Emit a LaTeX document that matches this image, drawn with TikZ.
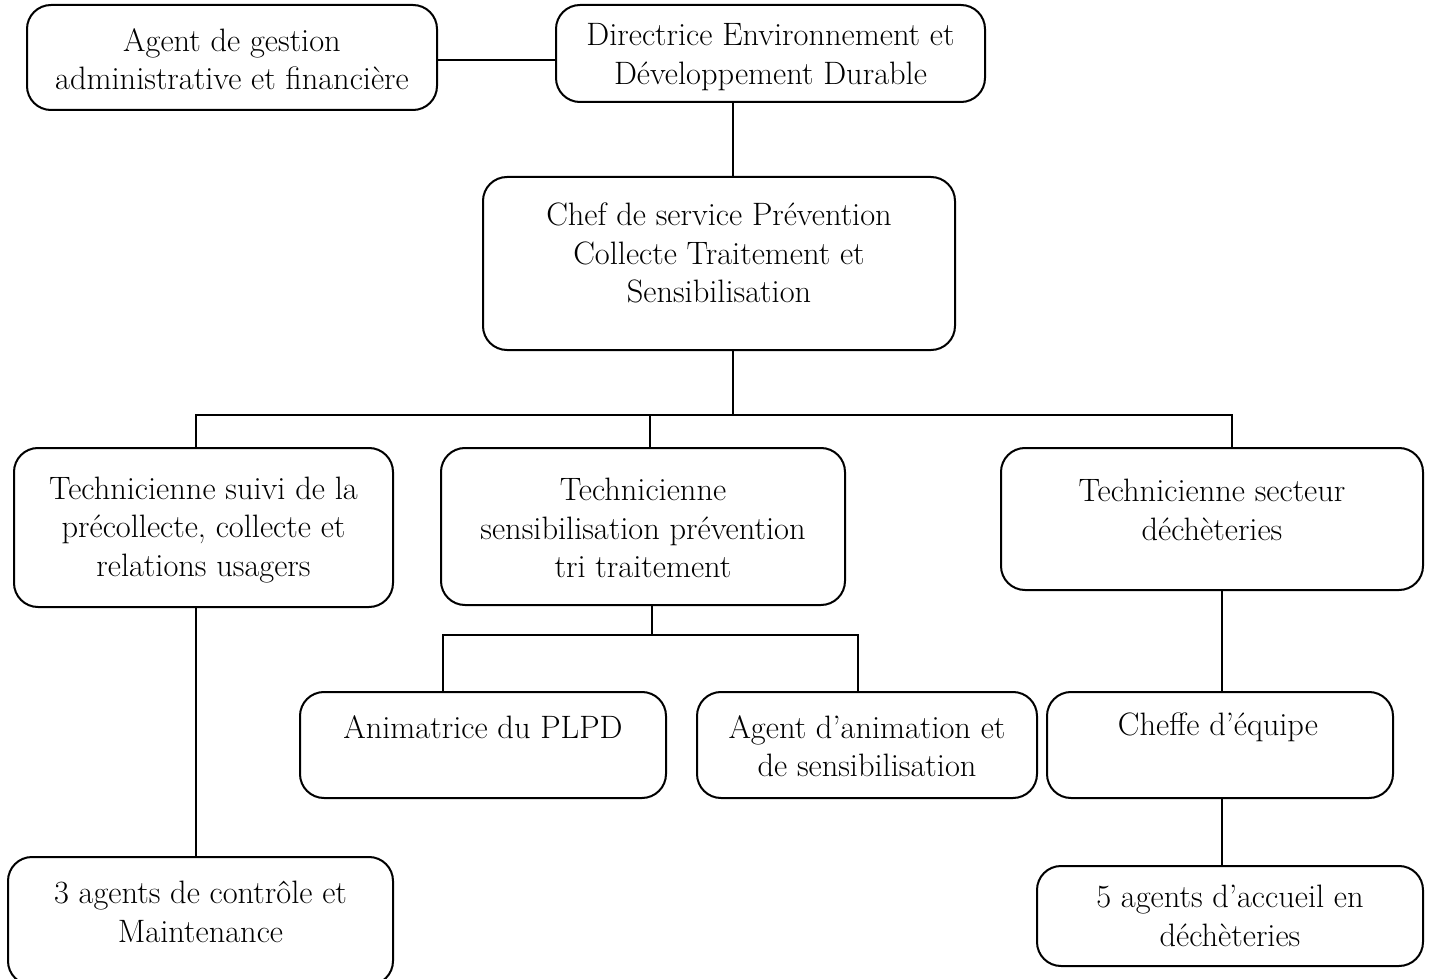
\documentclass[tikz,border=0pt]{standalone}
\usetikzlibrary{calc}
\begin{document}
\begin{tikzpicture}[x=0.5pt,y=-0.5pt,
  box/.style={draw, line width=1pt, rounded corners=12pt, inner sep=0pt},
  txt/.style={align=center, inner sep=0pt, font=\fontsize{16.2}{19.2}\selectfont},
  link/.style={line width=0.8pt}]
\useasboundingbox (0,0) rectangle (1432,979);
% boxes
\node[box, minimum width=205pt, minimum height=52.5pt] (agf) at (232,57.5) {};
\node[txt] (agft) at (232,59) {Agent de gestion\\administrative et financière};
\node[box, minimum width=214.5pt, minimum height=48.5pt] (dir) at (770.5,53.5) {};
\node[txt] (dirt) at (770.5,57) {Directrice Environnement et\\Développement Durable};
\node[box, minimum width=236pt, minimum height=86.5pt] (chef) at (719,263.5) {};
\node[txt] (cheft) at (719,253) {Chef de service Prévention\\Collecte Traitement et\\Sensibilisation};
\node[box, minimum width=189.5pt, minimum height=79.5pt] (t1) at (203.5,527.5) {};
\node[txt] (t1t) at (203.5,530) {Technicienne suivi de la\\précollecte, collecte et\\relations usagers};
\node[box, minimum width=202pt, minimum height=78.5pt] (t2) at (643,526.5) {};
\node[txt] (t2t) at (643,528) {Technicienne\\sensibilisation prévention\\tri traitement};
\node[box, minimum width=211pt, minimum height=71pt] (t3) at (1212,519) {};
\node[txt] (t3t) at (1212,510) {Technicienne secteur\\déchèteries};
\node[box, minimum width=192.5pt, minimum height=64pt] (ag3) at (200.5,921) {};
\node[txt] (ag3t) at (200.5,912) {3 agents de contrôle et\\Maintenance};
\node[box, minimum width=183pt, minimum height=53pt] (anim) at (483,745) {};
\node[txt] (animt) at (483,727) {Animatrice du PLPD};
\node[box, minimum width=170pt, minimum height=53pt] (agan) at (867,745) {};
\node[txt] (agant) at (867,746) {Agent d’animation et\\de sensibilisation};
\node[box, minimum width=173pt, minimum height=53pt] (cheffe) at (1220,745) {};
\node[txt] (cheffet) at (1218,727) {Cheffe d’équipe};
\node[box, minimum width=193pt, minimum height=50pt] (ag5) at (1230,916) {};
\node[txt] (ag5t) at (1230,916) {5 agents d’accueil en\\déchèteries};
% helper coordinates
\coordinate (h1) at (0,60);
\coordinate (v1) at (733,0);
\coordinate (j1) at (733,415);
\coordinate (c1) at (196,0);
\coordinate (c2) at (650,0);
\coordinate (c3) at (1232,0);
\coordinate (j2) at (652,635);
\coordinate (c4) at (443,0);
\coordinate (c5) at (858,0);
\coordinate (c6) at (1222,0);
% connectors
\draw[link] (agf.east |- h1) -- (dir.west |- h1);
\draw[link] (dir.south -| v1) -- (chef.north -| v1);
\draw[link] (chef.south -| v1) -- (j1);
\draw[link] (t1.north -| c1) -- (c1 |- j1) -- (c3 |- j1) -- (t3.north -| c3);
\draw[link] (t2.north -| c2) -- (c2 |- j1);
\draw[link] (t1.south -| c1) -- (ag3.north -| c1);
\draw[link] (t2.south -| j2) -- (j2);
\draw[link] (anim.north -| c4) -- (c4 |- j2) -- (c5 |- j2) -- (agan.north -| c5);
\draw[link] (t3.south -| c6) -- (cheffe.north -| c6);
\draw[link] (cheffe.south -| c6) -- (ag5.north -| c6);
\end{tikzpicture}
\end{document}
